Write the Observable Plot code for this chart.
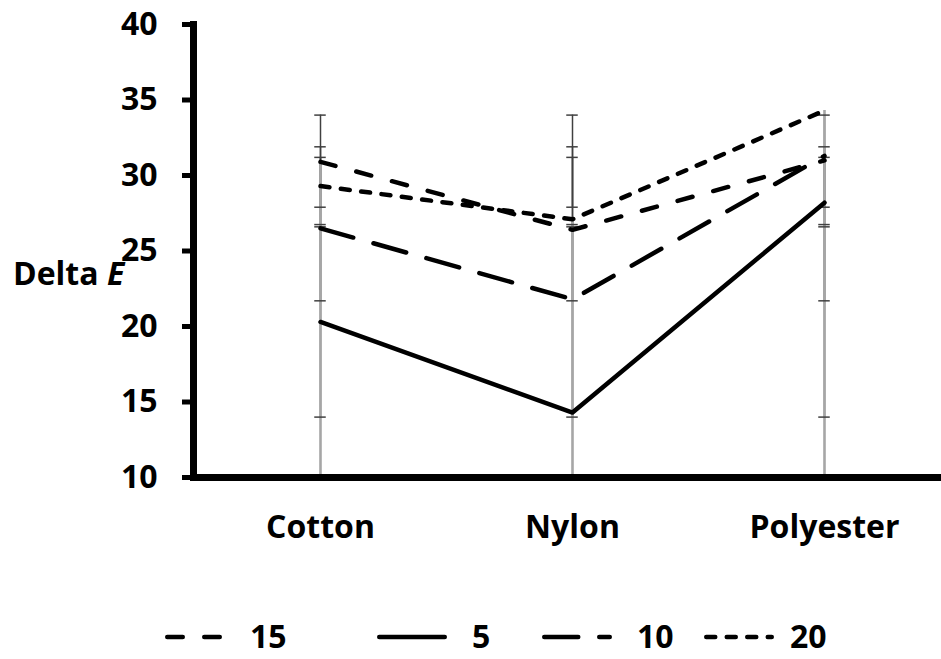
<!DOCTYPE html>
<html>
<head>
<meta charset="utf-8">
<script src="https://cdn.jsdelivr.net/npm/d3@7"></script>
<script src="https://cdn.jsdelivr.net/npm/@observablehq/plot@0.6"></script>
<style>
  html, body { margin: 0; padding: 0; background: #fff; }
  #chart svg { display: block; }
</style>
</head>
<body>
<div id="chart"></div>
<script>
// Fabric types on the x axis
const categories = ["Cotton", "Nylon", "Polyester"];

// Legend order of the series
const seriesNames = ["15", "5", "10", "20"];

// Delta E per fabric for each series
const delta5  = [20.3, 14.3, 28.2];
const delta10 = [26.5, 21.8, 31.3];
const delta15 = [30.9, 26.4, 31.0];
const delta20 = [29.3, 27.1, 34.3];

// Error bar bounds per fabric for each series
const errLow5   = [14.0, 14.0, 14.0];
const errHigh5  = [26.6, 26.6, 26.6];
const errLow10  = [21.7, 21.7, 21.7];
const errHigh10 = [31.2, 31.2, 31.2];
const errLow15  = [27.9, 27.9, 27.9];
const errHigh15 = [34.0, 34.0, 34.0];
const errLow20  = [26.75, 26.75, 26.75];
const errHigh20 = [31.9, 31.9, 31.9];

const yTicks = [10, 15, 20, 25, 30, 35, 40];

const valuesBySeries = {"5": delta5, "10": delta10, "15": delta15, "20": delta20};
const lowBySeries = {"5": errLow5, "10": errLow10, "15": errLow15, "20": errLow20};
const highBySeries = {"5": errHigh5, "10": errHigh10, "15": errHigh15, "20": errHigh20};

// Line style of each series
const W = 4.5;
const dashes = {"15": "15.5,21.5", "5": null, "10": "34,21", "20": "9,11.5"};

const points = seriesNames.flatMap(s =>
  categories.map((c, i) => ({series: s, fabric: c, value: valuesBySeries[s][i]})));
const errors = seriesNames.flatMap(s =>
  categories.map((c, i) => ({series: s, fabric: c, lo: lowBySeries[s][i], hi: highBySeries[s][i]})));
const caps = errors.flatMap(d => [{fabric: d.fabric, v: d.lo}, {fabric: d.fabric, v: d.hi}]);
const drops = categories.map(c => ({
  fabric: c,
  top: d3.max(points.filter(p => p.fabric === c), p => p.value)
}));

const font = "'Open Sans', Lato, sans-serif";
const fontSize = 32;

// x band geometry: three equal bands starting at the y axis
const xRange = [193, 950.5];
const band = (xRange[1] - xRange[0]) / categories.length;
const capHalf = 6;

const lineMarks = seriesNames.map(s =>
  Plot.lineY(points.filter(p => p.series === s), {
    x: "fabric", y: "value",
    stroke: "#000", strokeWidth: W,
    strokeDasharray: dashes[s] || undefined,
    strokeLinecap: "round", strokeLinejoin: "round"
  }));

const chart = Plot.plot({
  width: 941,
  height: 590,
  marginLeft: 193,
  marginRight: 0,
  marginTop: 24,
  marginBottom: 113,
  style: {background: "#fff", overflow: "visible"},
  x: {type: "band", domain: categories, range: xRange, padding: 0},
  y: {domain: [10, 40]},
  marks: [
    Plot.axisY({
      ticks: yTicks, tickSize: 11, tickPadding: 25, strokeWidth: 5,
      fontSize, fontWeight: "bold", fontFamily: font, fill: "#000",
      label: null
    }),
    Plot.axisX({
      tickSize: 0, tickPadding: 38,
      fontSize, fontWeight: "bold", fontFamily: font, fill: "#000",
      label: null
    }),
    // error bars
    Plot.ruleX(errors, {x: "fabric", y1: "lo", y2: "hi", stroke: "#404040", strokeWidth: 1.5}),
    // drop lines from the highest point to the axis
    Plot.ruleX(drops, {x: "fabric", y1: 10, y2: "top", stroke: "#a6a6a6", strokeWidth: 2.6}),
    Plot.tickY(caps, {
      x: "fabric", y: "v", stroke: "#404040", strokeWidth: 1.5,
      insetLeft: band / 2 - capHalf, insetRight: band / 2 - capHalf
    }),
    ...lineMarks,
    Plot.frame({anchor: "left", stroke: "#000", strokeWidth: 7}),
    Plot.frame({anchor: "bottom", stroke: "#000", strokeWidth: 7})
  ]
});

// Axis title with italic E
const title = d3.select(chart).append("text")
  .attr("x", 13).attr("y", 285)
  .attr("text-anchor", "start")
  .attr("font-family", font).attr("font-size", fontSize).attr("font-weight", "bold")
  .attr("fill", "#000");
title.append("tspan").text("Delta ");
title.append("tspan").attr("font-style", "italic").text("E");

document.getElementById("chart").appendChild(chart);

// Legend below the chart
const legendX = [165, 377, 542, 704];
const legendTextGap = [15, 25, 25, 16];
const legend = d3.select("#chart").append("svg")
  .attr("width", 941).attr("height", 69)
  .style("display", "block");
seriesNames.forEach((s, i) => {
  const g = legend.append("g").attr("transform", `translate(${legendX[i]},47)`);
  g.append("line")
    .attr("x1", W / 2).attr("x2", 70 - W / 2)
    .attr("stroke", "#000").attr("stroke-width", W)
    .attr("stroke-linecap", "round")
    .attr("stroke-dasharray", dashes[s]);
  g.append("text")
    .attr("x", 70 + legendTextGap[i]).attr("y", 11)
    .attr("text-anchor", "start")
    .attr("font-family", font).attr("font-size", fontSize).attr("font-weight", "bold")
    .attr("fill", "#000")
    .text(s);
});
</script>
</body>
</html>
